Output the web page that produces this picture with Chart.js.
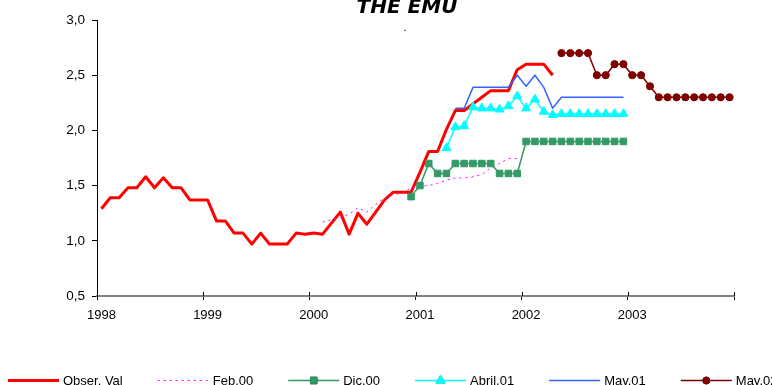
<!DOCTYPE html>
<html>
<head>
<meta charset="utf-8">
<script src="https://cdn.jsdelivr.net/npm/chart.js@4/dist/chart.umd.min.js"></script>
<style>
  html, body { margin: 0; padding: 0; background: #fff; }
  #wrap { width: 772px; height: 385px; }
</style>
</head>
<body>
<div id="wrap"><canvas id="c" width="772" height="385"></canvas></div>
<script>
// Monthly axis, Jan 1998 - Dec 2003
const years = ['1998', '1999', '2000', '2001', '2002', '2003'];
const monthNames = ['Jan', 'Feb', 'Mar', 'Apr', 'May', 'Jun', 'Jul', 'Aug', 'Sep', 'Oct', 'Nov', 'Dec'];
const months = [];
years.forEach(y => monthNames.forEach(m => months.push(m + ' ' + y)));

const yTicks = [0.5, 1.0, 1.5, 2.0, 2.5, 3.0];

// Observed values, from Jan 1998
const obsStart = 'Jan 1998';
const obsValues = [
  1.29, 1.39, 1.39, 1.48, 1.48, 1.58, 1.48, 1.57, 1.48, 1.48, 1.37, 1.37,
  1.37, 1.18, 1.18, 1.07, 1.07, 0.97, 1.07, 0.97, 0.97, 0.97, 1.07, 1.06,
  1.07, 1.06, 1.16, 1.26, 1.06, 1.25, 1.15, 1.26, 1.37, 1.44, 1.44, 1.44,
  1.62, 1.81, 1.81, 2.01, 2.18, 2.18, 2.24, 2.30, 2.36, 2.36, 2.36, 2.55,
  2.60, 2.60, 2.60, 2.50
];

// Forecast made in February 2000
const feb00Start = 'Feb 2000';
const feb00Values = [
  1.17, 1.19, 1.21, 1.24, 1.30, 1.26, 1.33, 1.39, 1.42, 1.43, 1.48,
  1.50, 1.50, 1.52, 1.55, 1.57, 1.57, 1.58, 1.60, 1.66, 1.70, 1.745, 1.745
];

// Forecast made in December 2000
const dic00Start = 'Dec 2000';
const dic00Values = [
  1.40,
  1.50, 1.70, 1.61, 1.61, 1.70, 1.70, 1.70, 1.70, 1.70, 1.61, 1.61, 1.61,
  1.90, 1.90, 1.90, 1.90, 1.90, 1.90, 1.90, 1.90, 1.90, 1.90, 1.90, 1.90
];

// Forecast made in April 2001
const abr01Start = 'Apr 2001';
const abr01Values = [
  1.84, 2.03, 2.04, 2.21, 2.20, 2.20, 2.19, 2.22, 2.31,
  2.20, 2.28, 2.17, 2.14, 2.15, 2.15, 2.15, 2.15, 2.15, 2.15, 2.15, 2.15
];

// Forecast made in May 2001
const may01Start = 'May 2001';
const may01Values = [
  2.20, 2.20, 2.39, 2.39, 2.39, 2.39, 2.39, 2.50,
  2.40, 2.50, 2.39, 2.20, 2.30, 2.30, 2.30, 2.30, 2.30, 2.30, 2.30, 2.30
];

// Forecast made in May 2002
const may02Start = 'May 2002';
const may02Values = [
  2.70, 2.70, 2.70, 2.70, 2.50, 2.50, 2.60, 2.60,
  2.50, 2.50, 2.40, 2.30, 2.30, 2.30, 2.30, 2.30, 2.30, 2.30, 2.30, 2.30
];

// Place a series on the monthly axis, starting at its first month
function onAxis(start, values) {
  const out = new Array(months.length).fill(null);
  const s = months.indexOf(start);
  values.forEach((v, i) => { out[s + i] = v; });
  return out;
}

const FONT = "'Liberation Sans', Arial, sans-serif";

const seriesDefs = [
  { label: 'Obser. Val', data: onAxis(obsStart, obsValues), color: '#FF0000', width: 3, dash: [], point: false, radius: 0 },
  { label: 'Feb.00', data: onAxis(feb00Start, feb00Values), color: '#FF00FF', width: 1, dash: [2, 4], point: false, radius: 0 },
  { label: 'Dic.00', data: onAxis(dic00Start, dic00Values), color: '#339966', width: 1.5, dash: [], point: 'rect', radius: 4.6 },
  { label: 'Abril.01', data: onAxis(abr01Start, abr01Values), color: '#00FFFF', width: 1.5, dash: [], point: 'triangle', radius: 5.2 },
  { label: 'May.01', data: onAxis(may01Start, may01Values), color: '#3366FF', width: 1.5, dash: [], point: false, radius: 0 },
  { label: 'May.02', data: onAxis(may02Start, may02Values), color: '#800000', width: 1.5, dash: [], point: 'circle', radius: 3.6 }
];

const datasets = seriesDefs.map((s, i) => ({
  label: s.label,
  data: s.data,
  borderColor: s.color,
  backgroundColor: s.color,
  borderWidth: s.width,
  borderDash: s.dash,
  borderJoinStyle: 'round',
  borderCapStyle: 'butt',
  tension: 0,
  spanGaps: false,
  pointStyle: s.point || 'circle',
  pointRadius: s.radius,
  pointHoverRadius: s.radius,
  pointBorderWidth: 1,
  pointBorderColor: s.color,
  pointBackgroundColor: s.color,
  order: seriesDefs.length - i
}));

// Title, stray mark, crossing ticks and bottom legend
const decorations = {
  id: 'decorations',
  afterDraw(chart) {
    const ctx = chart.ctx;
    const xs = chart.scales.x;
    const area = chart.chartArea;
    ctx.save();

    // tick marks on the category axis cross the axis line
    const step = xs.getPixelForValue(1) - xs.getPixelForValue(0);
    ctx.strokeStyle = '#000';
    ctx.lineWidth = 1;
    ctx.beginPath();
    for (let i = 0; i <= months.length; i += 12) {
      const px = Math.round(xs.getPixelForValue(Math.min(i, months.length - 1)) + (i === months.length ? step / 2 : -step / 2)) + 0.5;
      ctx.moveTo(px, area.bottom - 4);
      ctx.lineTo(px, area.bottom);
    }
    ctx.stroke();

    // title
    ctx.fillStyle = '#000';
    ctx.font = "italic bold 20px 'DejaVu Sans', Verdana, sans-serif";
    ctx.textAlign = 'center';
    ctx.textBaseline = 'alphabetic';
    ctx.fillText('THE EMU', 407, 13);
    ctx.font = '11px ' + FONT;
    ctx.fillText('.', 405, 31);

    // legend
    ctx.font = '13px ' + FONT;
    ctx.textAlign = 'left';
    const ly = 380.5;
    let x = 8;
    seriesDefs.forEach(s => {
      ctx.save();
      ctx.strokeStyle = s.color;
      ctx.lineWidth = s.width;
      ctx.setLineDash(s.dash);
      ctx.beginPath();
      ctx.moveTo(x, ly);
      ctx.lineTo(x + 51, ly);
      ctx.stroke();
      ctx.restore();
      if (s.point) {
        Chart.helpers.drawPoint(ctx, {
          pointStyle: s.point, radius: s.radius, borderWidth: 1, rotation: 0
        }, x + 25.5, ly);
        ctx.fillStyle = s.color;
        ctx.strokeStyle = s.color;
        ctx.fill();
        ctx.stroke();
      }
      ctx.fillStyle = '#000';
      ctx.fillText(s.label, x + 55, 384.5);
      x += 55 + ctx.measureText(s.label).width + 35;
    });
    ctx.restore();
  }
};

new Chart(document.getElementById('c'), {
  type: 'line',
  data: { labels: months, datasets },
  options: {
    responsive: false,
    animation: false,
    devicePixelRatio: 1,
    layout: { padding: { left: 0, right: 38, top: 20, bottom: 59 } },
    plugins: {
      legend: { display: false },
      title: { display: false },
      tooltip: { enabled: false }
    },
    scales: {
      x: {
        type: 'category',
        offset: true,
        grid: {
          offset: true,
          drawOnChartArea: false,
          drawTicks: true,
          tickLength: 4,
          lineWidth: 1,
          color: c => (c.index === undefined || c.index % 12 === 0) ? '#000' : 'rgba(0,0,0,0)'
        },
        border: { display: true, color: '#808080', width: 2 },
        ticks: {
          autoSkip: false,
          maxRotation: 0,
          minRotation: 0,
          padding: 8,
          color: '#000',
          font: { family: FONT, size: 13 },
          callback: (v, i) => (i % 12 === 0 ? years[i / 12] : '')
        },
        afterFit: s => { s.height = 30; }
      },
      y: {
        min: yTicks[0],
        max: yTicks[yTicks.length - 1],
        afterBuildTicks: s => { s.ticks = yTicks.map(v => ({ value: v })); },
        grid: {
          drawOnChartArea: false,
          drawTicks: true,
          tickLength: 5,
          color: '#000',
          lineWidth: 1
        },
        border: { display: true, color: '#000', width: 1 },
        ticks: {
          padding: 7,
          color: '#000',
          font: { family: FONT, size: 13.5 },
          callback: v => Number(v).toFixed(1).replace('.', ',')
        },
        afterFit: s => { s.width = 97; }
      }
    }
  },
  plugins: [decorations]
});
</script>
</body>
</html>
